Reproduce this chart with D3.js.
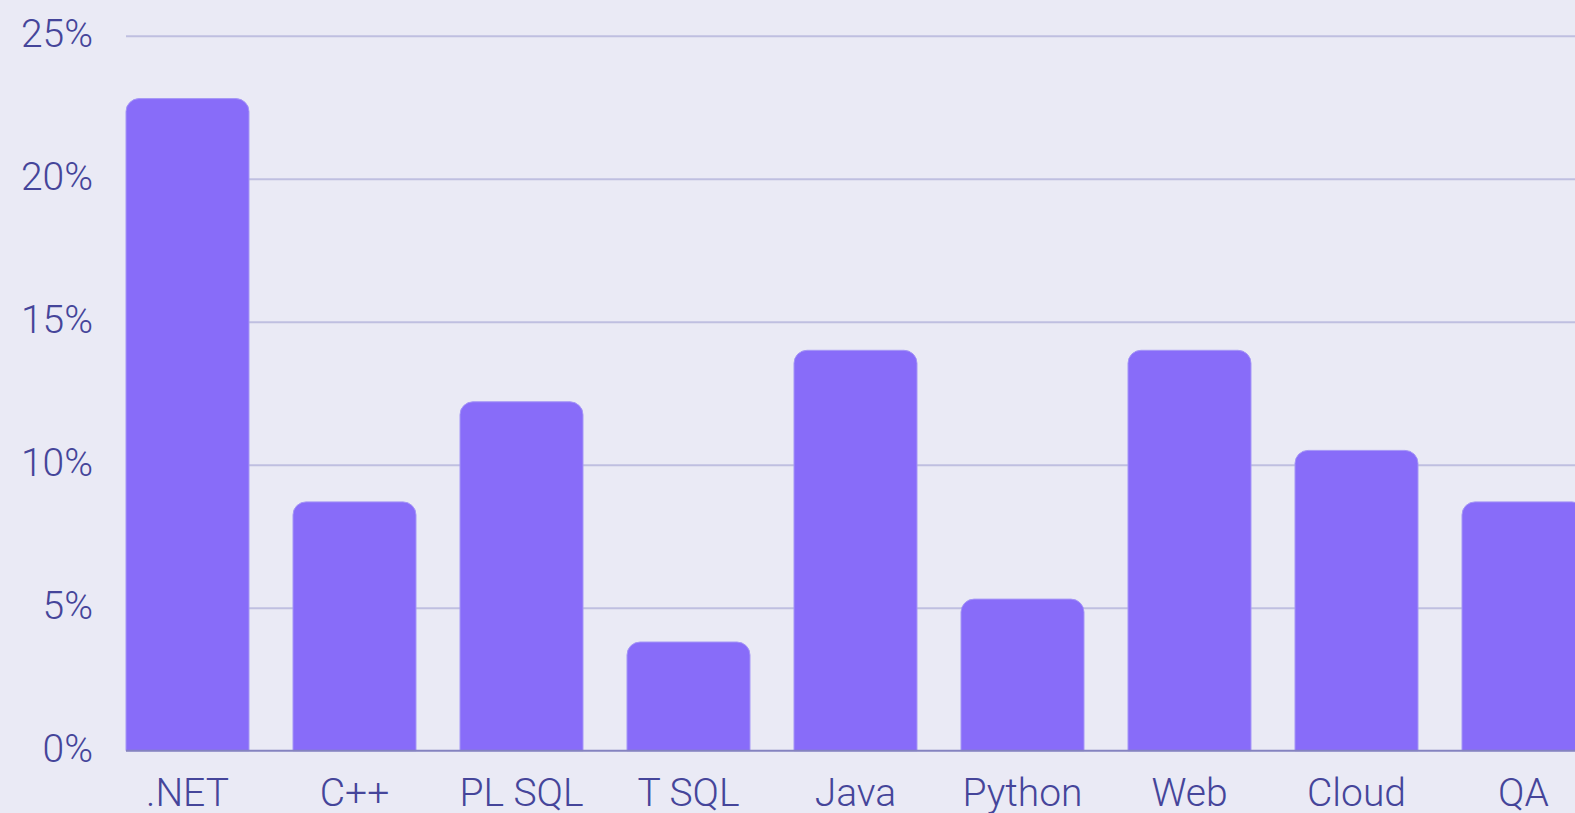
<!DOCTYPE html>
<html>
<head>
<meta charset="utf-8">
<script src="https://cdn.jsdelivr.net/npm/d3@7"></script>
<style>
  html, body { margin: 0; padding: 0; background: #eaeaf5; overflow: hidden; }
  text { font-family: Roboto, "Liberation Sans", Arial, sans-serif; font-weight: 300; fill: #45459a; }
</style>
</head>
<body>
<script>
const categories = [".NET", "C++", "PL SQL", "T SQL", "Java", "Python", "Web", "Cloud", "QA"];
const shares = [22.8, 8.7, 12.2, 3.8, 14.0, 5.3, 14.0, 10.5, 8.7];
const yTicks = [0, 5, 10, 15, 20, 25];

const width = 1575, height = 813;
const left = 126, baseY = 750.7, topY = 35.7;

const svg = d3.select("body").append("svg")
  .attr("width", width).attr("height", height);

const x = d3.scaleBand().domain(categories).range([left, 1585]).paddingInner(0.2635).paddingOuter(0);
const y = d3.scaleLinear().domain([0, 25]).range([baseY, topY]);

// grid lines
svg.append("g")
  .attr("transform", `translate(${left},0)`)
  .call(d3.axisLeft(y).tickValues(yTicks).tickSize(-(width - left)).tickFormat(""))
  .call(g => g.select(".domain").remove())
  .call(g => g.selectAll("line").attr("stroke", "#bfbfe0").attr("stroke-width", 2)
    .attr("display", d => d === 0 ? "none" : null));

// y labels
svg.append("g").selectAll("text")
  .data(yTicks)
  .enter().append("text")
  .attr("x", 93).attr("y", d => y(d)).attr("dy", "0.3em")
  .attr("text-anchor", "end")
  .style("font-size", "39px")
  .text(d => d + "%");

// bars with rounded top corners
const r = 13;
svg.append("g").selectAll("path")
  .data(categories.map((c, i) => ({ c, v: shares[i] })))
  .enter().append("path")
  .attr("d", d => {
    const x0 = x(d.c), w = x.bandwidth(), y0 = y(d.v), y1 = baseY;
    return `M${x0},${y1}V${y0 + r}A${r},${r} 0 0 1 ${x0 + r},${y0}H${x0 + w - r}A${r},${r} 0 0 1 ${x0 + w},${y0 + r}V${y1}Z`;
  })
  .attr("fill", "#886cf9")
  .attr("stroke", "#a596f6")
  .attr("stroke-width", 1);

// baseline
svg.append("line")
  .attr("x1", left).attr("x2", width)
  .attr("y1", baseY).attr("y2", baseY)
  .attr("stroke", "#8583bf").attr("stroke-width", 2);

// x labels (the reference cuts them at the bottom edge too)
svg.append("g")
  .attr("transform", `translate(0,${baseY})`)
  .call(d3.axisBottom(x).tickSize(0).tickPadding(0))
  .call(g => g.select(".domain").remove())
  .call(g => g.selectAll("text")
    .attr("y", 55).attr("dy", 0)
    .style("font-size", "39px")
    .attr("fill", "#45459a")
    .style("font-family", "Roboto, 'Liberation Sans', Arial, sans-serif")
    .style("font-weight", 300));
</script>
</body>
</html>
